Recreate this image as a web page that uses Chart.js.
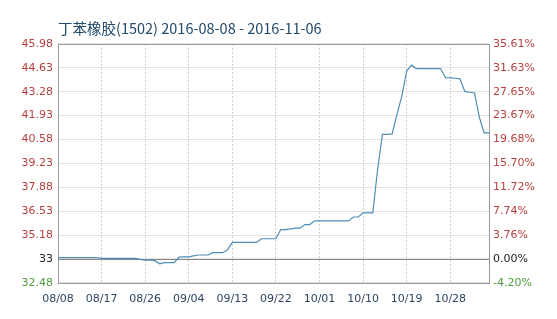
<!DOCTYPE html>
<html>
<head>
<meta charset="utf-8">
<script src="https://cdn.jsdelivr.net/npm/chart.js@4"></script>
<style>
    html, body { margin: 0; padding: 0; background: #fff; }
    #wrap { width: 557px; height: 319px; }
</style>
</head>
<body>
<div id="wrap"><canvas id="priceChart"></canvas></div>
<script>
// chart data
const startDate = new Date(2016, 7, 8);
const dayCount = 90;
const xTicks = ['08/08', '08/17', '08/26', '09/04', '09/13', '09/22', '10/01', '10/10', '10/19', '10/28'];
const prices = [
    33.90, 33.90, 33.90, 33.90, 33.90, 33.90, 33.90, 33.90, 33.90,
    33.86, 33.86, 33.86, 33.86, 33.86, 33.86, 33.86, 33.86,
    33.80, 33.76, 33.76, 33.73, 33.55, 33.62, 33.62, 33.62,
    33.93, 33.95, 33.95, 34.00, 34.05, 34.05, 34.05,
    34.18, 34.18, 34.18, 34.35, 34.76, 34.76, 34.76, 34.76, 34.76, 34.76,
    34.97, 34.97, 34.97, 34.97, 35.49, 35.49, 35.53, 35.57, 35.57,
    35.77, 35.77, 35.98, 35.98, 35.98, 35.98, 35.98, 35.98, 35.98, 35.98,
    36.20, 36.20, 36.43, 36.43, 36.43, 38.90, 40.87, 40.87, 40.90,
    42.00, 43.03, 44.45, 44.78, 44.59, 44.59, 44.59, 44.59, 44.59, 44.59,
    44.08, 44.06, 44.04, 44.01, 43.30, 43.25, 43.21, 41.85, 40.95, 40.95
];
// y ticks, bottom to top
const leftTicks = ['32.48', '33', '35.18', '36.53', '37.88', '39.23', '40.58', '41.93', '43.28', '44.63', '45.98'];
const rightTicks = ['-4.20%', '0.00%', '3.76%', '7.74%', '11.72%', '15.70%', '19.68%', '23.67%', '27.65%', '31.63%', '35.61%'];
const yMin = 32.48;
const yStep = 1.35;
const baseIndex = 1;

const dates = [];
for (let i = 0; i < dayCount; i++) {
    const d = new Date(startDate.getTime() + i * 86400000);
    dates.push(String(d.getMonth() + 1).padStart(2, '0') + '/' + String(d.getDate()).padStart(2, '0'));
}

const tickValues = leftTicks.map((t, i) => yMin + yStep * i);
const yMax = tickValues[tickValues.length - 1];

function tickColor(ctx) {
    if (ctx.index === baseIndex) return '#222222';
    return ctx.index < baseIndex ? '#4f9a3c' : '#b5403e';
}

// frame + base line
const framePlugin = {
    id: 'frame',
    beforeDatasetsDraw(chart) {
        const a = chart.chartArea;
        const c = chart.ctx;
        const y = Math.round(chart.scales.y.getPixelForValue(tickValues[baseIndex])) + 0.5;
        c.save();
        c.strokeStyle = '#8a8a8a';
        c.lineWidth = 1;
        c.beginPath();
        c.moveTo(a.left, y);
        c.lineTo(a.right, y);
        c.stroke();
        c.strokeStyle = '#9a9a9a';
        c.strokeRect(Math.round(a.left) + 0.5, Math.round(a.top) + 0.5,
            Math.round(a.right - a.left), Math.round(a.bottom - a.top));
        c.restore();
    }
};

const tickFont = { family: 'DejaVu Sans', size: 11 };

new Chart(document.getElementById('priceChart'), {
    type: 'line',
    data: {
        labels: dates,
        datasets: [{
            data: prices,
            borderColor: '#4e8db5',
            borderWidth: 1.2,
            pointRadius: 0,
            tension: 0,
            fill: false
        }]
    },
    options: {
        responsive: true,
        maintainAspectRatio: false,
        animation: false,
        layout: { padding: { top: 0, bottom: 3, left: 0, right: 0 } },
        plugins: {
            legend: { display: false },
            tooltip: { enabled: false },
            title: {
                display: true,
                text: '丁苯橡胶(1502) 2016-08-08 - 2016-11-06',
                align: 'start',
                fullSize: false,
                color: '#234a6b',
                font: { family: 'Noto Sans CJK SC', size: 14.5, weight: 'normal', lineHeight: 1.1 },
                padding: { top: 21, bottom: 7 }
            }
        },
        scales: {
            x: {
                type: 'category',
                offset: false,
                afterBuildTicks: function (scale) {
                    scale.ticks = scale.ticks.filter(t => xTicks.includes(dates[t.value]));
                },
                ticks: {
                    autoSkip: false,
                    maxRotation: 0,
                    padding: 10,
                    color: '#2c4560',
                    font: tickFont,
                    callback: function (value) { return dates[value]; }
                },
                grid: { color: '#cfcfcf', drawTicks: false },
                border: { display: false, dash: [2, 2] }
            },
            y: {
                position: 'left',
                min: yMin,
                max: yMax,
                afterBuildTicks: function (scale) {
                    scale.ticks = tickValues.map(v => ({ value: v }));
                },
                afterFit: function (scale) { scale.width = 58; },
                ticks: {
                    padding: 5,
                    color: tickColor,
                    font: tickFont,
                    callback: function (value, index) { return leftTicks[index]; }
                },
                grid: { color: '#e3e3e3', drawTicks: false },
                border: { display: false }
            },
            y2: {
                position: 'right',
                min: yMin,
                max: yMax,
                afterBuildTicks: function (scale) {
                    scale.ticks = tickValues.map(v => ({ value: v }));
                },
                afterFit: function (scale) { scale.width = 68; },
                ticks: {
                    padding: 4,
                    color: tickColor,
                    font: tickFont,
                    callback: function (value, index) { return rightTicks[index]; }
                },
                grid: { display: false, drawTicks: false },
                border: { display: false }
            }
        }
    },
    plugins: [framePlugin]
});
</script>
</body>
</html>
